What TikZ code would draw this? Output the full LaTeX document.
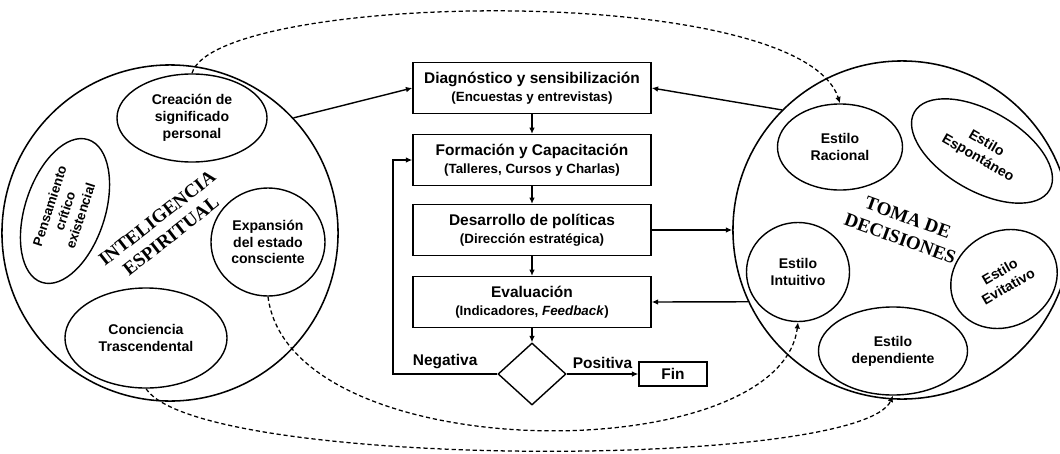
\documentclass[tikz,border=0pt]{standalone}
\usepackage{fontspec}
\setmainfont{Liberation Sans}
\newfontfamily\bigserif{Liberation Serif}
\usetikzlibrary{arrows.meta,shapes.geometric}
\newcommand\boxnote[1]{{\fontsize{9.5}{11}\selectfont #1}}
\begin{document}
\begin{tikzpicture}[
  x=0.025cm, y=-0.025cm,
  >={Latex[length=4.5pt,width=4pt]},
  stepbox/.style={draw, line width=1pt, minimum width=5.95cm, minimum height=1.27cm, align=center, inner sep=1pt, font=\bfseries\fontsize{11}{13}\selectfont},
  idea/.style={draw, ellipse, line width=1pt, inner sep=0pt, align=center, font=\bfseries\fontsize{10}{12}\selectfont},
  zone/.style={draw, circle, line width=1.1pt, inner sep=0pt},
  zonetitle/.style={align=center, font=\bigserif\bfseries\fontsize{13.5}{16}\selectfont},
  flow/.style={->, line width=1pt},
  link/.style={->, line width=0.9pt, dash pattern=on 3pt off 2pt},
  tag/.style={font=\bfseries\fontsize{11}{13}\selectfont}
]
\useasboundingbox (0,0) rectangle (1060,454);

% the two large zones
\node[zone, minimum size=8.4cm] (spirit) at (170,233) {};
\node[zone, minimum size=8.45cm] (decide) at (902,230) {};
\node[zonetitle, rotate=38] (spirittitle) at (164,227) {INTELIGENCIA\\ESPIRITUAL};
\node[zonetitle, rotate=-20] (decidetitle) at (904,228) {TOMA DE\\DECISIONES};

% inside the left zone
\node[idea, minimum width=3.75cm, minimum height=2.2cm] (meaning) at (192,118) {Creación de\\significado\\personal};
\node[idea, minimum width=3.75cm, minimum height=2cm, rotate=72, font=\bfseries\fontsize{9.5}{11.5}\selectfont] (critical) at (65,211) {Pensamiento\\crítico\\existencial};
\node[idea, minimum width=2.85cm, minimum height=2.7cm] (expand) at (268,242) {Expansión\\del estado\\consciente};
\node[idea, minimum width=4.05cm, minimum height=2.5cm] (aware) at (146,338) {Conciencia\\Trascendental};

% inside the right zone
\node[idea, minimum width=3.125cm, minimum height=2.15cm] (rational) at (840,147) {Estilo\\Racional};
\node[idea, minimum width=3.9cm, minimum height=2cm, rotate=-30] (spont) at (982,151) {Estilo\\Espontáneo};
\node[idea, minimum width=2.575cm, minimum height=2.475cm] (intuit) at (798,272) {Estilo\\Intuitivo};
\node[idea, minimum width=2.75cm, minimum height=2.375cm, rotate=30] (avoid) at (1004,279) {Estilo\\Evitativo};
\node[idea, minimum width=3.725cm, minimum height=2.2cm] (reliant) at (893,351) {Estilo\\dependiente};

% process in the middle
\node[stepbox] (diag) at (532,88) {Diagnóstico y sensibilización\\\boxnote{(Encuestas y entrevistas)}};
\node[stepbox] (train) at (532,160) {Formación y Capacitación\\\boxnote{(Talleres, Cursos y Charlas)}};
\node[stepbox] (policy) at (532,230) {Desarrollo de políticas\\\boxnote{(Dirección estratégica)}};
\node[stepbox] (assess) at (532,302) {Evaluación\\\boxnote{(Indicadores, \textit{Feedback})}};
\node[draw, diamond, line width=1pt, inner sep=0pt, minimum width=1.7cm, minimum height=1.55cm] (check) at (532,374) {};
\node[draw, line width=1pt, minimum width=1.7cm, minimum height=0.6cm, tag] (endbox) at (673,374) {Fin};
\coordinate (loop) at (393,374);

% solid connectors
\draw[flow] (spirit.43) -- (diag.west);
\draw[flow] (decide.135) -- (diag.east);
\draw[flow] (diag) -- (train);
\draw[flow] (train) -- (policy);
\draw[flow] (policy) -- (assess);
\draw[flow] (assess) -- (check);
\draw[flow] (policy.east) -- (decide.west);
\draw[flow] (decide.205) -- (assess.east);
\draw[flow] (check.west) -- node[tag, above] (neg) {Negativa} (loop) |- (train.west);
\draw[flow] (check.east) -- node[tag, above] (pos) {Positiva} (endbox.west);

% dashed links between the zones
\draw[link] (meaning.north) .. controls (215,-8) and (800,-20) .. (rational.north);
\draw[link] (expand.south) .. controls (290,470) and (780,470) .. (intuit.south);
\draw[link] (aware.south) .. controls (200,470) and (860,470) .. (reliant.south);
\end{tikzpicture}
\end{document}
